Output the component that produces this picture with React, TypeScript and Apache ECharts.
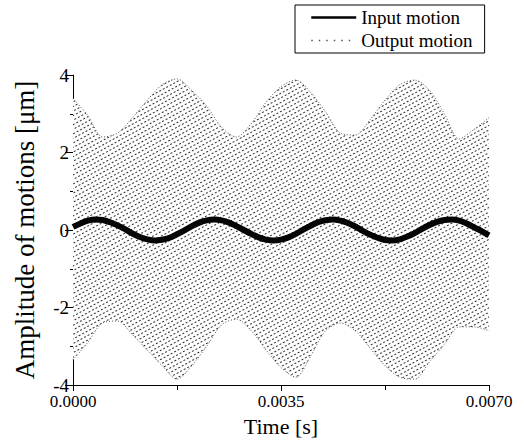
import React, { useEffect, useRef } from 'react';
import * as echarts from 'echarts';

// Input motion samples: time [s] and amplitude [µm]
const inputTimes = [0, 0.000125, 0.00025, 0.000375, 0.0005, 0.000625, 0.00075, 0.000875, 0.001, 0.001125, 0.00125, 0.001375, 0.0015, 0.001625, 0.00175, 0.001875, 0.002, 0.002125, 0.00225, 0.002375, 0.0025, 0.002625, 0.00275, 0.002875, 0.003, 0.003125, 0.00325, 0.003375, 0.0035, 0.003625, 0.00375, 0.003875, 0.004, 0.004125, 0.00425, 0.004375, 0.0045, 0.004625, 0.00475, 0.004875, 0.005, 0.005125, 0.00525, 0.005375, 0.0055, 0.005625, 0.00575, 0.005875, 0.006, 0.006125, 0.00625, 0.006375, 0.0065, 0.006625, 0.00675, 0.006875, 0.007];
const inputMotion = [0.08, 0.17, 0.24, 0.27, 0.26, 0.20, 0.12, 0.02, -0.09, -0.18, -0.24, -0.27, -0.25, -0.20, -0.11, -0.01, 0.10, 0.19, 0.25, 0.27, 0.25, 0.19, 0.10, 0.00, -0.10, -0.19, -0.25, -0.27, -0.25, -0.19, -0.10, 0.01, 0.11, 0.20, 0.25, 0.27, 0.24, 0.18, 0.09, -0.02, -0.12, -0.20, -0.26, -0.27, -0.24, -0.17, -0.08, 0.03, 0.13, 0.21, 0.26, 0.27, 0.24, 0.17, 0.07, -0.03, -0.14];

// Output motion: envelope of the fast oscillation (upper / lower extremes) [µm]
const outputTimes = [0, 0.00025, 0.0005, 0.00075, 0.001, 0.00125, 0.0015, 0.00175, 0.002, 0.00225, 0.0025, 0.00275, 0.003, 0.00325, 0.0035, 0.00375, 0.004, 0.00425, 0.0045, 0.00475, 0.005, 0.00525, 0.0055, 0.00575, 0.006, 0.00625, 0.0065, 0.00675, 0.007];
const outputUpper = [3.4, 2.95, 2.4, 2.5, 2.9, 3.35, 3.75, 3.9, 3.6, 3.2, 2.65, 2.4, 2.75, 3.3, 3.7, 3.87, 3.55, 3.05, 2.5, 2.45, 2.85, 3.35, 3.75, 3.87, 3.6, 3.0, 2.35, 2.6, 2.9];
const outputLower = [-3.35, -2.9, -2.4, -2.35, -2.7, -3.1, -3.5, -3.85, -3.5, -3.0, -2.45, -2.3, -2.6, -3.1, -3.55, -3.8, -3.25, -2.6, -2.4, -2.6, -3.05, -3.5, -3.8, -3.85, -3.4, -2.95, -2.5, -2.5, -2.6];

const xTickLabels = ['0.0000', '0.0035', '0.0070'];
const yTickLabels = ['-4', '-2', '0', '2', '4'];

const FONT = "'Liberation Serif', 'Times New Roman', serif";

export default function App() {
  const ref = useRef<HTMLDivElement>(null);

  useEffect(() => {
    if (!ref.current) return;
    const chart = echarts.init(ref.current, null, { renderer: 'svg' });

    const inputData = inputTimes.map((t, i) => [t, inputMotion[i]]);
    const upperData = outputTimes.map((t, i) => [t, outputUpper[i]]);
    const lowerData = outputTimes.map((t, i) => [t, outputLower[i]]);

    const dotLine = { color: '#555', width: 1, type: [1, 2] as any };
    const decal = {
      symbol: 'rect',
      symbolSize: 1,
      color: 'rgba(20,20,20,0.9)',
      dashArrayX: [2, 2],
      dashArrayY: [1, 3],
      rotation: -0.5,
    };

    chart.setOption({
      animation: false,
      backgroundColor: '#ffffff',
      grid: { left: 73, right: 35, top: 75, bottom: 61, containLabel: false },
      legend: {
        left: 295,
        top: 5,
        orient: 'vertical',
        borderColor: '#000',
        borderWidth: 1,
        borderRadius: 0,
        padding: [3, 12, 3, 15],
        itemGap: 4,
        itemWidth: 45,
        itemHeight: 14,
        textStyle: { fontFamily: FONT, fontSize: 19, color: '#000' },
        data: [
          {
            name: 'Input motion',
            itemStyle: { opacity: 0 },
            lineStyle: { color: '#000', width: 2.5, type: 'solid' },
          },
          {
            name: 'Output motion',
            itemStyle: { opacity: 0 },
            lineStyle: { color: '#555', width: 1.5, type: [1.5, 6] },
          },
        ],
      },
      xAxis: {
        type: 'value',
        min: 0,
        max: 0.007,
        interval: 0.0035,
        name: 'Time [s]',
        nameLocation: 'middle',
        nameGap: 30,
        nameTextStyle: { fontFamily: FONT, fontSize: 22, color: '#000' },
        axisLine: { show: true, onZero: false, lineStyle: { color: '#000', width: 1 } },
        axisTick: { show: true, length: 6, lineStyle: { color: '#000' } },
        minorTick: { show: true, splitNumber: 2, length: 5, lineStyle: { color: '#000' } },
        splitLine: { show: false },
        axisLabel: {
          fontFamily: FONT,
          fontSize: 17,
          lineHeight: 13,
          color: '#000',
          margin: 10,
          formatter: (_v: number, i: number) => xTickLabels[i] ?? '',
        },
      },
      yAxis: {
        type: 'value',
        min: -4,
        max: 4,
        interval: 2,
        name: 'Amplitude of motions [μm]',
        nameLocation: 'middle',
        nameGap: 35,
        nameTextStyle: { fontFamily: FONT, fontSize: 27, color: '#000' },
        axisLine: { show: true, onZero: false, lineStyle: { color: '#000', width: 1 } },
        axisTick: { show: true, length: 8, lineStyle: { color: '#000' } },
        minorTick: { show: true, splitNumber: 2, length: 3, lineStyle: { color: '#000' } },
        splitLine: { show: false },
        axisLabel: {
          fontFamily: FONT,
          fontSize: 19,
          lineHeight: 12,
          color: '#000',
          margin: 4,
          formatter: (_v: number, i: number) => yTickLabels[i] ?? '',
        },
      },
      series: [
        {
          name: 'Output motion',
          type: 'line',
          data: upperData,
          smooth: 0.3,
          symbol: 'none',
          lineStyle: dotLine,
          areaStyle: { color: '#ffffff', opacity: 1 },
          itemStyle: { color: '#555', decal },
          z: 2,
        },
        {
          name: 'outputLower',
          type: 'line',
          data: lowerData,
          smooth: 0.3,
          symbol: 'none',
          lineStyle: dotLine,
          areaStyle: { color: '#ffffff', opacity: 1 },
          itemStyle: { color: '#555', decal },
          z: 2,
        },
        {
          name: 'Input motion',
          type: 'line',
          data: inputData,
          smooth: 0.3,
          symbol: 'none',
          lineStyle: { color: '#050505', width: 6 },
          itemStyle: { color: '#000' },
          z: 3,
        },
      ],
    });

    return () => chart.dispose();
  }, []);

  return (
    <div
      ref={ref}
      style={{ position: 'fixed', left: 0, top: 0, width: 524, height: 446, background: '#fff' }}
    />
  );
}
